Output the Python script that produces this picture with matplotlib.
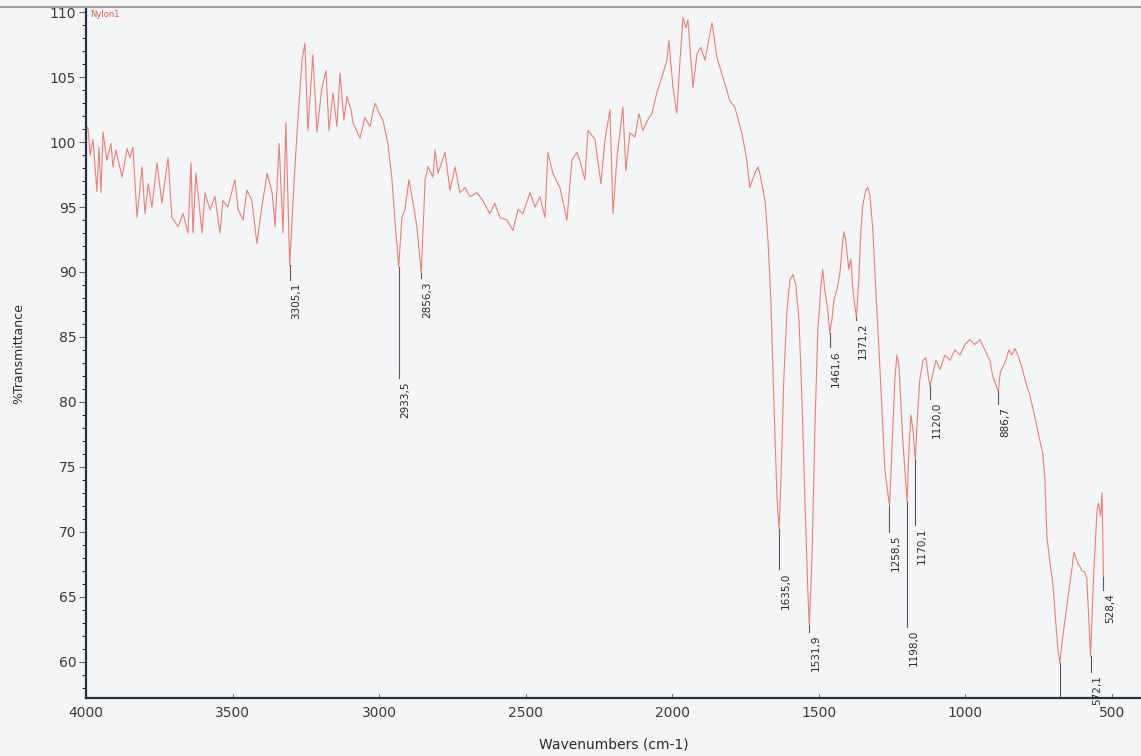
import matplotlib.pyplot as plt
import matplotlib.ticker as mticker
from matplotlib.lines import Line2D

# IR spectrum (wavenumber cm-1, %T)
wavenumber = [
    4000, 3993, 3986, 3976, 3963, 3956, 3949, 3942, 3929, 3915, 3908, 3898, 3877, 3860,
    3850, 3840, 3826, 3809, 3799, 3788, 3775, 3758, 3741, 3720, 3707, 3686, 3669, 3652,
    3642, 3635, 3625, 3604, 3594, 3577, 3560, 3543, 3533, 3516, 3492, 3481, 3464, 3451,
    3434, 3417, 3400, 3382, 3365, 3355, 3341, 3328, 3318, 3305, 3290, 3280, 3263, 3253,
    3243, 3226, 3212, 3195, 3181, 3171, 3157, 3144, 3133, 3120, 3110, 3096, 3089, 3065,
    3048, 3031, 3014, 2997, 2987, 2970, 2956, 2946, 2933, 2922, 2912, 2898, 2884, 2871,
    2856, 2843, 2833, 2816, 2809, 2799, 2775, 2758, 2741, 2724, 2707, 2690, 2666, 2646,
    2622, 2605, 2588, 2564, 2543, 2526, 2509, 2485, 2468, 2451, 2434, 2424, 2407, 2383,
    2359, 2342, 2325, 2315, 2298, 2287, 2263, 2243, 2229, 2212, 2202, 2188, 2168, 2158,
    2144, 2127, 2113, 2100, 2083, 2069, 2052, 2035, 2018, 2011, 1997, 1984, 1973, 1963,
    1953, 1946, 1929, 1915, 1902, 1888, 1864, 1847, 1827, 1803, 1786, 1762, 1745, 1735,
    1718, 1707, 1700, 1683, 1673, 1663, 1653, 1642, 1635, 1629, 1619, 1608, 1598, 1588,
    1578, 1567, 1557, 1547, 1537, 1532, 1523, 1513, 1503, 1492, 1486, 1479, 1469, 1462,
    1455, 1448, 1438, 1428, 1421, 1414, 1408, 1397, 1390, 1383, 1377, 1371, 1363, 1356,
    1349, 1339, 1332, 1325, 1315, 1305, 1294, 1284, 1274, 1263, 1258, 1250, 1240, 1233,
    1226, 1220, 1213, 1206, 1198, 1192, 1185, 1178, 1170, 1165, 1155, 1144, 1134, 1126,
    1120, 1100, 1086, 1069, 1052, 1035, 1018, 1001, 984, 967, 950, 933, 916, 906,
    895, 887, 880, 871, 861, 851, 841, 830, 820, 807, 793, 779, 762, 745,
    735, 728, 721, 710, 701, 684, 677, 667, 650, 636, 629, 622, 616, 608,
    602, 592, 585, 572, 562, 550, 545, 538, 533, 528,
]
transmittance = [
    101.3, 101.0, 99.0, 100.2, 96.2, 99.6, 96.1, 100.8, 98.6, 99.9, 98.1, 99.4, 97.3, 99.5,
    98.8, 99.6, 94.2, 98.1, 94.5, 96.8, 95.0, 98.4, 95.3, 98.8, 94.2, 93.5, 94.5, 93.0,
    98.4, 93.0, 97.6, 93.0, 96.1, 94.8, 95.8, 93.0, 95.5, 95.0, 97.1, 94.8, 94.0, 96.3,
    95.5, 92.2, 95.0, 97.6, 96.1, 93.5, 99.9, 93.0, 101.5, 90.5, 97.0, 100.7, 106.3, 107.6,
    100.9, 106.7, 100.8, 104.2, 105.5, 100.9, 103.8, 101.2, 105.3, 101.7, 103.5, 102.5, 101.5, 100.3,
    101.9, 101.2, 103.0, 102.1, 101.7, 99.9, 97.1, 94.0, 90.4, 94.2, 94.8, 97.1, 95.3, 93.5,
    89.9, 97.1, 98.1, 97.3, 99.4, 97.6, 99.2, 96.3, 98.1, 96.1, 96.5, 95.8, 96.1, 95.5,
    94.5, 95.3, 94.2, 94.0, 93.2, 94.8, 94.5, 96.1, 95.0, 95.8, 94.2, 99.2, 97.6, 96.5,
    94.0, 98.6, 99.2, 98.6, 97.1, 100.9, 100.2, 96.8, 100.2, 102.5, 94.5, 98.8, 102.7, 97.8,
    100.7, 100.4, 102.2, 100.9, 101.7, 102.2, 103.8, 105.0, 106.3, 107.8, 104.2, 102.2, 106.3, 109.6,
    108.8, 109.4, 104.2, 106.8, 107.3, 106.3, 109.2, 106.5, 105.0, 103.2, 102.7, 100.7, 98.6, 96.5,
    97.6, 98.1, 97.5, 95.5, 92.5, 87.8, 80.2, 72.5, 70.2, 73.8, 81.7, 87.1, 89.4, 89.8,
    89.0, 86.3, 80.2, 72.5, 65.5, 62.8, 67.8, 77.8, 85.5, 89.0, 90.2, 88.6, 87.1, 85.3,
    86.3, 87.8, 88.6, 89.8, 91.6, 93.1, 92.5, 90.2, 91.0, 88.6, 87.5, 86.5, 89.4, 93.2,
    95.2, 96.3, 96.5, 95.9, 93.2, 88.6, 84.0, 79.4, 74.8, 72.8, 72.0, 76.3, 81.7, 83.6,
    82.8, 80.2, 77.1, 74.8, 72.3, 76.3, 79.0, 77.8, 75.5, 78.0, 81.7, 83.2, 83.4, 82.0,
    81.2, 83.2, 82.5, 83.6, 83.2, 84.0, 83.6, 84.4, 84.8, 84.4, 84.8, 84.0, 83.2, 82.0,
    81.3, 80.8, 82.3, 82.7, 83.2, 84.0, 83.6, 84.1, 83.6, 82.7, 81.5, 80.5, 78.8, 77.0,
    76.0, 74.0, 69.6, 67.5, 66.1, 61.0, 59.9, 61.9, 64.8, 67.1, 68.4, 68.0, 67.6, 67.3,
    67.0, 66.9, 66.4, 60.4, 66.5, 71.7, 72.2, 71.2, 73.0, 66.5,
]

# peak picks: position, curve value, end of marker line, label
peak_wn = [3305.1, 2933.5, 2856.3, 1635.0, 1531.9, 1461.6, 1371.2, 1258.5,
           1198.0, 1170.1, 1120.0, 886.7, 677.0, 572.1, 528.4]
peak_top = [90.5, 90.4, 89.9, 70.2, 62.8, 85.3, 86.5, 72.0,
            72.3, 75.5, 81.2, 80.8, 59.9, 60.4, 66.5]
peak_end = [89.4, 81.8, 89.5, 67.1, 62.3, 84.2, 86.3, 70.0,
            62.7, 70.5, 80.2, 79.8, 57.3, 59.2, 65.5]
peak_labels = ["3305,1", "2933,5", "2856,3", "1635,0", "1531,9", "1461,6", "1371,2", "1258,5",
               "1198,0", "1170,1", "1120,0", "886,7", "", "572,1", "528,4"]

bg = "#f4f5f7"
fig = plt.figure(figsize=(11.41, 7.56), dpi=100, facecolor=bg)
ax = fig.add_axes([0.0754, 0.0767, 0.9246, 0.9123])
ax.set_facecolor(bg)

ax.plot(wavenumber, transmittance, color="#ec7f76", lw=0.8)

for wn, top, end, lab in zip(peak_wn, peak_top, peak_end, peak_labels):
    ax.plot([wn, wn], [top, end], color="#555a60", lw=0.8)
    if lab:
        ax.annotate(lab, (wn, end), xytext=(1, -2), textcoords="offset points",
                    rotation=90, ha="left", va="top", fontsize=7.5, color="#2a2a2a")

ax.set_xlim(4000, 400)
ax.set_ylim(57.2, 110.3)
ax.xaxis.set_major_locator(mticker.MultipleLocator(500))
ax.yaxis.set_major_locator(mticker.MultipleLocator(5))
ax.yaxis.set_minor_locator(mticker.MultipleLocator(1))
ax.tick_params(axis="both", labelsize=10, labelcolor="#3a3a3a", color="#666666")
ax.tick_params(axis="y", which="major", length=5, direction="out", pad=2)
ax.tick_params(axis="y", which="minor", length=3, direction="out")
ax.tick_params(axis="x", length=3, direction="in", pad=6)

for side in ["top", "right"]:
    ax.spines[side].set_visible(False)
for side in ["left", "bottom"]:
    ax.spines[side].set_color("#28304a")
    ax.spines[side].set_linewidth(1.6)

ax.set_xlabel("Wavenumbers (cm-1)", fontsize=10, color="#2a2a2a", labelpad=12)
ax.set_ylabel("%Transmittance", fontsize=9, color="#2a2a2a", labelpad=18)
ax.text(0.004, 0.998, "Nylon1", transform=ax.transAxes, fontsize=6,
        color="#e0554c", ha="left", va="top")

# grey frame line along the top of the page
fig.add_artist(Line2D([0, 1], [0.991, 0.991], transform=fig.transFigure,
                      color="#a0a0a0", lw=1.5))

plt.savefig("out.png", dpi=100, facecolor=bg)
